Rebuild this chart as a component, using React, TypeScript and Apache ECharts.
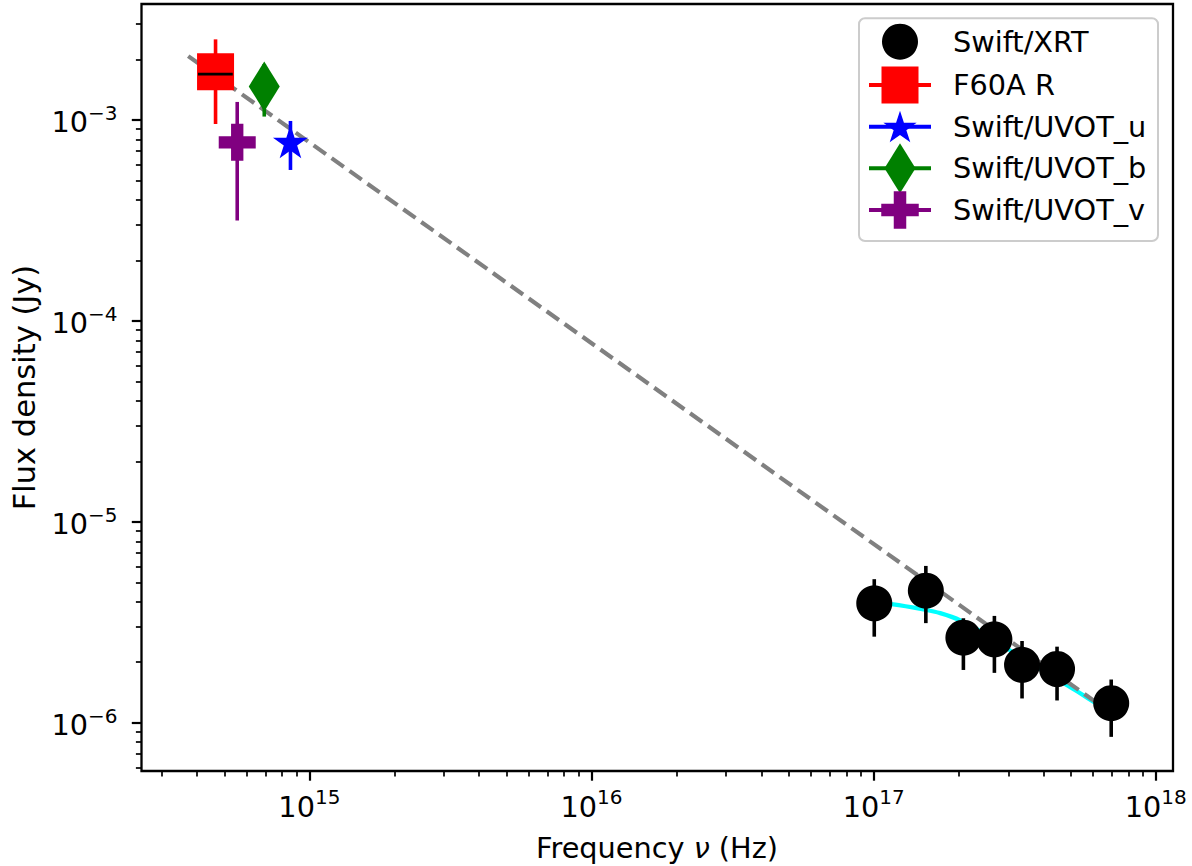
import React, { useEffect, useRef } from "react";
import * as echarts from "echarts";

// ---------------- data (frequency in Hz, flux density in Jy) ----------------
const xrtFreq = [1.005e17, 1.531e17, 2.08e17, 2.679e17, 3.357e17, 4.467e17, 6.95e17];
const xrtFlux = [3.93e-6, 4.54e-6, 2.65e-6, 2.6e-6, 1.94e-6, 1.85e-6, 1.25e-6];
const xrtFluxLo = [2.68e-6, 3.13e-6, 1.83e-6, 1.77e-6, 1.32e-6, 1.29e-6, 8.5e-7];
const xrtFluxHi = [5.18e-6, 6.03e-6, 3.31e-6, 3.4e-6, 2.55e-6, 2.39e-6, 1.64e-6];

const rFreq = [4.65e14];
const rFlux = [1.74e-3];
const rFluxLo = [9.55e-4];
const rFluxHi = [2.52e-3];
// black bar drawn across the R-band square
const rBarFreq = [4.03e14, 5.35e14];
const rBarFlux = [1.69e-3, 1.69e-3];

const uFreq = [8.57e14];
const uFlux = [7.8e-4];
const uFluxLo = [5.64e-4];
const uFluxHi = [9.89e-4];

const bFreq = [6.92e14];
const bFlux = [1.47e-3];
const bFluxLo = [1.04e-3];
const bFluxHi = [1.9e-3];

const vFreq = [5.55e14];
const vFlux = [7.74e-4];
const vFluxLo = [3.16e-4];
const vFluxHi = [1.23e-3];

// power-law fit (grey dashed)
const fitFreq = [3.72e14, 6.31e17];
const fitFlux = [2.08e-3, 1.23e-6];

// absorbed model (cyan)
const absFreq = [1.002e17, 1.175e17, 1.503e17, 1.722e17, 2.028e17, 2.588e17, 3.304e17, 4.227e17, 5.309e17, 6.353e17];
const absFlux = [3.94e-6, 3.88e-6, 3.66e-6, 3.51e-6, 3.23e-6, 2.67e-6, 2.12e-6, 1.73e-6, 1.42e-6, 1.21e-6];

const xTickExp = [15, 16, 17, 18];
const yTickExp = [-6, -5, -4, -3];
const legendLabels = ["Swift/XRT", "F60A R", "Swift/UVOT_u", "Swift/UVOT_b", "Swift/UVOT_v"];

// axis ranges (decades)
const X_MIN = 14.405;
const X_MAX = 18.061;
const Y_MIN = -6.2405;
const Y_MAX = -2.4226;

// ---------------- helpers ----------------
const lg = (v: number) => Math.log10(v);
const FONT = "DejaVu Sans";
const FS = 28.75;

function minorTicks(lo: number, hi: number) {
  const out: number[] = [];
  for (let e = Math.floor(lo); e <= Math.ceil(hi); e++) {
    for (let k = 2; k <= 9; k++) {
      const v = e + Math.log10(k);
      if (v > lo && v < hi) out.push(v);
    }
  }
  return out;
}

function starPts(cx: number, cy: number, R: number) {
  const pts: number[][] = [];
  for (let i = 0; i < 10; i++) {
    const a = -Math.PI / 2 + (i * Math.PI) / 5;
    const r = i % 2 === 0 ? R : R * 0.381966;
    pts.push([cx + r * Math.cos(a), cy + r * Math.sin(a)]);
  }
  return pts;
}
function plusPts(cx: number, cy: number, s: number) {
  const a = s / 6;
  const b = s / 2;
  return [
    [cx - a, cy - b], [cx + a, cy - b], [cx + a, cy - a], [cx + b, cy - a],
    [cx + b, cy + a], [cx + a, cy + a], [cx + a, cy + b], [cx - a, cy + b],
    [cx - a, cy + a], [cx - b, cy + a], [cx - b, cy - a], [cx - a, cy - a],
  ];
}
const toPath = (pts: number[][]) =>
  "path://" + pts.map((p, i) => (i === 0 ? "M" : "L") + (p[0] + 50).toFixed(3) + "," + (p[1] + 50).toFixed(3)).join(" ") + " Z";

const STAR_PATH = toPath(starPts(0, 0, 10));
const PLUS_PATH = toPath(plusPts(0, 0, 30));

const pts = (f: number[], s: number[]) => f.map((v, i) => [lg(v), lg(s[i])]);
const errs = (f: number[], lo: number[], hi: number[]) => f.map((v, i) => [lg(v), lg(lo[i]), lg(hi[i])]);

function errSeries(data: number[][], color: string) {
  return {
    type: "custom",
    xAxisIndex: 0,
    yAxisIndex: 0,
    z: 3,
    silent: true,
    encode: { x: 0, y: [1, 2] },
    data,
    renderItem: (_p: any, api: any) => {
      const a = api.coord([api.value(0), api.value(1)]);
      const b = api.coord([api.value(0), api.value(2)]);
      return {
        type: "line",
        shape: { x1: a[0], y1: a[1], x2: b[0], y2: b[1] },
        style: { stroke: color, lineWidth: 3.6 },
      };
    },
  };
}

const GRID = { left: 141.5, top: 4, width: 1031.5, height: 767 };

export default function App() {
  const ref = useRef<HTMLDivElement>(null);
  useEffect(() => {
    if (!ref.current) return;
    const chart = echarts.init(ref.current, null, { renderer: "svg" });

    const labelRich = {
      b: { fontSize: FS, fontFamily: FONT, color: "#000", lineHeight: 34, verticalAlign: "bottom" },
      s: { fontSize: 20, fontFamily: FONT, color: "#000", lineHeight: 24, verticalAlign: "top" },
    };

    const majorX = xTickExp.slice();
    const majorY = yTickExp.slice();
    const minX = minorTicks(X_MIN, X_MAX);
    const minY = minorTicks(Y_MIN, Y_MAX);

    // legend graphic
    const legX = 900;
    const legY = [41.7, 85, 126.7, 168.3, 210];
    const legendChildren: any[] = [
      {
        type: "rect",
        shape: { x: 859, y: 18.3, width: 299, height: 222.7, r: 6 },
        style: { fill: "rgba(255,255,255,0.8)", stroke: "#cccccc", lineWidth: 2 },
      },
      { type: "circle", shape: { cx: legX, cy: legY[0], r: 18 }, style: { fill: "#000" } },
      { type: "line", shape: { x1: 869, y1: legY[1], x2: 931, y2: legY[1] }, style: { stroke: "#ff0000", lineWidth: 4 } },
      { type: "rect", shape: { x: legX - 18.5, y: legY[1] - 18.5, width: 37, height: 37 }, style: { fill: "#ff0000" } },
      { type: "line", shape: { x1: 869, y1: legY[2], x2: 931, y2: legY[2] }, style: { stroke: "#0000ff", lineWidth: 4 } },
      { type: "polygon", shape: { points: starPts(legX, legY[2] + 1.5, 17.5) }, style: { fill: "#0000ff" } },
      { type: "line", shape: { x1: 869, y1: legY[3], x2: 931, y2: legY[3] }, style: { stroke: "#008000", lineWidth: 4 } },
      {
        type: "polygon",
        shape: { points: [[legX, legY[3] - 25], [legX + 15.5, legY[3]], [legX, legY[3] + 25], [legX - 15.5, legY[3]]] },
        style: { fill: "#008000" },
      },
      { type: "line", shape: { x1: 869, y1: legY[4], x2: 931, y2: legY[4] }, style: { stroke: "#800080", lineWidth: 4 } },
      { type: "polygon", shape: { points: plusPts(legX, legY[4], 37.5) }, style: { fill: "#800080" } },
    ];
    legendLabels.forEach((t, i) => {
      legendChildren.push({
        type: "text",
        x: 953,
        y: legY[i],
        style: { text: t, fontSize: FS, fontFamily: FONT, fill: "#000", align: "left", verticalAlign: "middle" },
      });
    });

    const option: any = {
      animation: false,
      backgroundColor: "#ffffff",
      grid: [
        { ...GRID, show: true, borderColor: "#000", borderWidth: 2.3, backgroundColor: "transparent", outerBoundsMode: "none" },
        { ...GRID, show: false, outerBoundsMode: "none" },
      ],
      xAxis: [
        {
          type: "value",
          gridIndex: 0,
          min: X_MIN,
          max: X_MAX,
          axisLine: { show: false },
          splitLine: { show: false },
          axisTick: { show: true, customValues: majorX, length: 9.7, lineStyle: { color: "#000", width: 2.2 } },
          axisLabel: {
            customValues: majorX,
            margin: 16,
            formatter: (v: number) => `{b|10}{s|${Math.round(v)}}`,
            rich: labelRich,
          },
        },
        {
          type: "value",
          gridIndex: 1,
          min: X_MIN,
          max: X_MAX,
          axisLine: { show: false },
          splitLine: { show: false },
          axisTick: { show: true, customValues: minX, length: 5.6, lineStyle: { color: "#000", width: 1.7 } },
          axisLabel: { show: false },
        },
      ],
      yAxis: [
        {
          type: "value",
          gridIndex: 0,
          min: Y_MIN,
          max: Y_MAX,
          axisLine: { show: false },
          splitLine: { show: false },
          axisTick: { show: true, customValues: majorY, length: 9.7, lineStyle: { color: "#000", width: 2.2 } },
          axisLabel: {
            customValues: majorY,
            margin: 24,
            formatter: (v: number) => `{b|10}{s|\u2212${Math.abs(Math.round(v))}}`,
            rich: labelRich,
          },
        },
        {
          type: "value",
          gridIndex: 1,
          min: Y_MIN,
          max: Y_MAX,
          axisLine: { show: false },
          splitLine: { show: false },
          axisTick: { show: true, customValues: minY, length: 5.6, lineStyle: { color: "#000", width: 1.7 } },
          axisLabel: { show: false },
        },
      ],
      series: [
        {
          type: "line",
          name: "absorbed",
          xAxisIndex: 0,
          yAxisIndex: 0,
          z: 1,
          data: pts(absFreq, absFlux),
          smooth: 0.3,
          symbol: "none",
          lineStyle: { color: "#00ffff", width: 4.2 },
        },
        {
          type: "line",
          name: "fit",
          xAxisIndex: 0,
          yAxisIndex: 0,
          z: 2,
          data: pts(fitFreq, fitFlux),
          symbol: "none",
          lineStyle: { color: "#808080", width: 4.2, type: [15, 7] },
        },
        errSeries(errs(xrtFreq, xrtFluxLo, xrtFluxHi), "#000"),
        errSeries(errs(rFreq, rFluxLo, rFluxHi), "#ff0000"),
        errSeries(errs(uFreq, uFluxLo, uFluxHi), "#0000ff"),
        errSeries(errs(bFreq, bFluxLo, bFluxHi), "#008000"),
        errSeries(errs(vFreq, vFluxLo, vFluxHi), "#800080"),
        {
          type: "scatter",
          name: legendLabels[0],
          z: 4,
          data: pts(xrtFreq, xrtFlux),
          symbol: "circle",
          symbolSize: 36,
          itemStyle: { color: "#000", opacity: 1 },
        },
        {
          type: "scatter",
          name: legendLabels[1],
          z: 4,
          data: pts(rFreq, rFlux),
          symbol: "rect",
          symbolSize: 37,
          itemStyle: { color: "#ff0000", opacity: 1 },
        },
        {
          type: "scatter",
          name: legendLabels[2],
          z: 4,
          data: pts(uFreq, uFlux),
          symbol: STAR_PATH,
          symbolKeepAspect: true,
          symbolSize: 35,
          itemStyle: { color: "#0000ff", opacity: 1 },
        },
        {
          type: "scatter",
          name: legendLabels[3],
          z: 4,
          data: pts(bFreq, bFlux),
          symbol: "diamond",
          symbolSize: [31, 50],
          itemStyle: { color: "#008000", opacity: 1 },
        },
        {
          type: "scatter",
          name: legendLabels[4],
          z: 4,
          data: pts(vFreq, vFlux),
          symbol: PLUS_PATH,
          symbolSize: 37,
          itemStyle: { color: "#800080", opacity: 1 },
        },
        {
          type: "line",
          name: "R bar",
          z: 5,
          data: pts(rBarFreq, rBarFlux),
          symbol: "none",
          lineStyle: { color: "#000", width: 2.8 },
        },
      ],
      graphic: [
        {
          type: "text",
          x: 24,
          y: 387.5,
          rotation: Math.PI / 2,
          style: { text: "Flux density (Jy)", fontSize: 30.5, fontFamily: FONT, fill: "#000", align: "center", verticalAlign: "middle" },
        },
        {
          type: "text",
          x: 657,
          y: 848,
          style: {
            text: "{n|Frequency }{i|\u03bd}{n| (Hz)}",
            align: "center",
            verticalAlign: "middle",
            rich: {
              n: { fontSize: FS, fontFamily: FONT, color: "#000" },
              i: { fontSize: FS, fontFamily: FONT, fontStyle: "italic", color: "#000" },
            },
          },
        },
        { type: "group", z: 100, children: legendChildren },
      ],
    };

    chart.setOption(option);
    return () => chart.dispose();
  }, []);

  return <div ref={ref} style={{ position: "fixed", left: 0, top: 0, width: 1192, height: 866 }} />;
}
